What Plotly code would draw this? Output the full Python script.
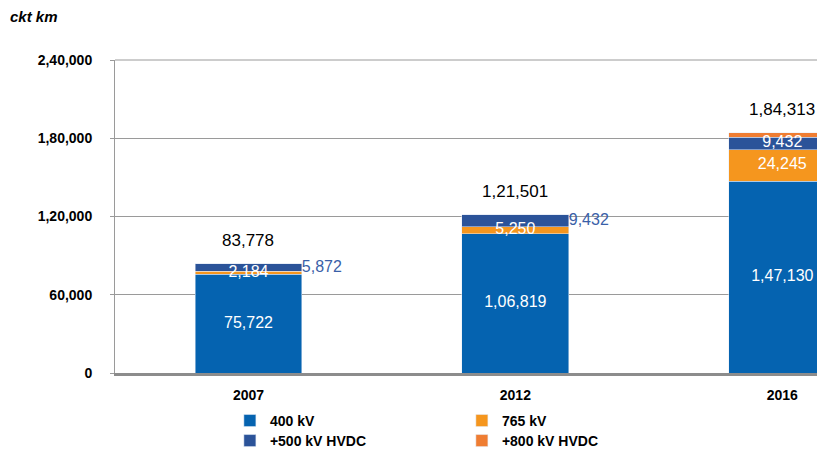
import plotly.graph_objects as go

years = ["2007", "2012", "2016"]
kv400 = [75722, 106819, 147130]
kv765 = [2184, 5250, 24245]
hvdc500 = [5872, 9432, 9432]
hvdc800 = [0, 0, 3506]
totals = [83778, 121501, 184313]

y_ticks = [0, 60000, 120000, 180000, 240000]
y_ticktext = ["0", "60,000", "1,20,000", "1,80,000", "2,40,000"]

c400 = "#0563b0"
c765 = "#f5961e"
c500 = "#2b5399"
c800 = "#ef7d32"

xs = list(range(len(years)))
fig = go.Figure()

# stacked bars
fig.add_trace(go.Bar(x=xs, y=kv400, name="400 kV", marker_color=c400, width=0.4, legend="legend"))
fig.add_trace(go.Bar(x=xs, y=kv765, name="765 kV", marker_color=c765, width=0.4, legend="legend"))
fig.add_trace(go.Bar(x=xs, y=hvdc500, name="+500 kV HVDC", marker_color=c500, width=0.4, legend="legend2"))
fig.add_trace(go.Bar(x=xs, y=hvdc800, name="+800 kV HVDC", marker_color=c800, width=0.4, legend="legend2"))

lbl_font = dict(family="Liberation Sans, Arial", size=16)

def fmt(v):
    # indian style grouping
    s = str(v)
    if len(s) <= 3:
        return s
    head, tail = s[:-3], s[-3:]
    parts = []
    while len(head) > 2:
        parts.insert(0, head[-2:])
        head = head[:-2]
    if head:
        parts.insert(0, head)
    return ",".join(parts) + "," + tail

# segment labels
mid400 = [v / 2 for v in kv400]
mid765 = [a + b / 2 for a, b in zip(kv400, kv765)]
mid500 = [a + b + c / 2 for a, b, c in zip(kv400, kv765, hvdc500)]

fig.add_trace(go.Scatter(x=xs, y=mid400, mode="text", text=[fmt(v) for v in kv400],
                         textfont=dict(color="white", **lbl_font), showlegend=False, hoverinfo="skip"))
fig.add_trace(go.Scatter(x=xs, y=mid765, mode="text", text=[fmt(v) for v in kv765],
                         textfont=dict(color="white", **lbl_font), showlegend=False, hoverinfo="skip"))
# hvdc 500 labels: outside for first two, inside for 2016
fig.add_trace(go.Scatter(x=[x + 0.2 for x in xs[:2]], y=mid500[:2], mode="text",
                         text=[fmt(v) for v in hvdc500[:2]], textposition="middle right",
                         textfont=dict(color="#3a5fa8", **lbl_font), showlegend=False, hoverinfo="skip"))
fig.add_trace(go.Scatter(x=xs[2:], y=mid500[2:], mode="text", text=[fmt(v) for v in hvdc500[2:]],
                         textfont=dict(color="white", **lbl_font), showlegend=False, hoverinfo="skip"))

# totals above the stacks
annots = []
for x, t in zip(xs, totals):
    annots.append(dict(x=x, y=t, text=fmt(t), showarrow=False, yanchor="bottom", yshift=12,
                       font=dict(color="black", family="Liberation Sans, Arial", size=17)))
annots.append(dict(text="<b><i>ckt km</i></b>", xref="paper", yref="paper",
                   x=-0.149, y=1.14, xanchor="left", yanchor="middle",
                   showarrow=False, font=dict(size=15)))

# page body has an 8px margin; the right side of the chart runs off the window like the reference
fig.update_layout(
    width=825, height=445,
    barmode="stack",
    plot_bgcolor="white", paper_bgcolor="white",
    margin=dict(l=107, r=0, t=52, b=80, autoexpand=False),
    font=dict(family="Liberation Sans, Arial", color="black"),
    xaxis=dict(range=[-0.5, 2.19], tickvals=xs, ticktext=years,
               tickfont=dict(size=14, weight="bold"), ticklabelstandoff=7,
               showline=True, linecolor="#8c8c8c", linewidth=3, mirror=False,
               showgrid=False, ticks="", zeroline=False),
    yaxis=dict(range=[0, 240000], tickvals=y_ticks, ticktext=y_ticktext,
               tickfont=dict(size=14, weight="bold"),
               showline=True, linecolor="#9a9a9a", linewidth=1,
               gridcolor="#9a9a9a", gridwidth=1, ticks="outside", ticklen=4,
               tickcolor="#9a9a9a", zeroline=False, ticklabelstandoff=15),
    legend=dict(orientation="h", x=0.16, y=-0.102, xanchor="left", yanchor="top",
                entrywidth=187, entrywidthmode="pixels", itemwidth=30, traceorder="normal",
                bgcolor="rgba(0,0,0,0)", font=dict(size=14, weight="bold"), tracegroupgap=0),
    legend2=dict(orientation="h", x=0.16, y=-0.166, xanchor="left", yanchor="top",
                 entrywidth=187, entrywidthmode="pixels", itemwidth=30, traceorder="normal",
                 bgcolor="rgba(0,0,0,0)", font=dict(size=14, weight="bold"), tracegroupgap=0),
    annotations=annots,
    shapes=[dict(type="line", xref="paper", yref="paper", x0=0, x1=1, y0=1, y1=1,
                 line=dict(color="#9a9a9a", width=1))],
)

fig.write_html("out.html")
